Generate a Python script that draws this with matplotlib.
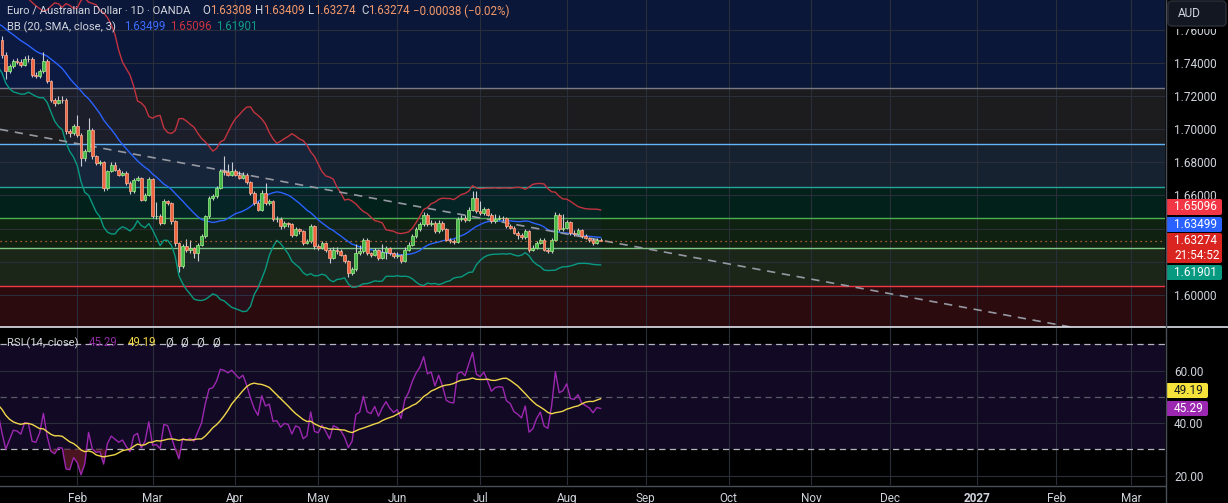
import matplotlib
matplotlib.use('Agg')
import matplotlib.pyplot as plt
import numpy as np
import pandas as pd
from matplotlib.patches import FancyBboxPatch, Rectangle
from matplotlib.lines import Line2D
from matplotlib.transforms import IdentityTransform
from matplotlib.ticker import FixedLocator, FuncFormatter

plt.rcParams['font.family'] = ['Roboto', 'DejaVu Sans']

# EUR/AUD daily, OANDA
first_day = '2026-01-05'

# closes before the first visible bar (warm-up for BB and RSI)
pre_close = [1.7560, 1.7590, 1.7570, 1.7610, 1.7640, 1.7620, 1.7660, 1.7690, 1.7670, 1.7700,
             1.7680, 1.7720, 1.7700, 1.7740, 1.7710, 1.7690, 1.7730, 1.7760, 1.7730, 1.7700,
             1.7690, 1.7720, 1.7750, 1.7730, 1.7760, 1.7740, 1.7700, 1.7720, 1.7680, 1.7650,
             1.7600, 1.7560, 1.7500, 1.7530, 1.7510, 1.7555, 1.7580, 1.7560, 1.7600, 1.7539]

close = [1.7449, 1.7348, 1.7378, 1.7409, 1.7405, 1.7388, 1.7423, 1.7420, 1.7328, 1.7322,
         1.7348, 1.7409, 1.7288, 1.7178, 1.7158, 1.7178, 1.7175, 1.6987, 1.6977, 1.7017,
         1.6967, 1.6826, 1.6866, 1.6997, 1.6836, 1.6796, 1.6800, 1.6646, 1.6746, 1.6786,
         1.6756, 1.6726, 1.6736, 1.6676, 1.6625, 1.6696, 1.6706, 1.6575, 1.6605, 1.6700,
         1.6475, 1.6478, 1.6435, 1.6565, 1.6555, 1.6445, 1.6314, 1.6174, 1.6294, 1.6274,
         1.6284, 1.6254, 1.6304, 1.6354, 1.6475, 1.6585, 1.6595, 1.6646, 1.6746, 1.6740,
         1.6726, 1.6746, 1.6726, 1.6706, 1.6726, 1.6680, 1.6615, 1.6555, 1.6515, 1.6615,
         1.6555, 1.6565, 1.6455, 1.6459, 1.6415, 1.6431, 1.6425, 1.6364, 1.6395, 1.6384,
         1.6314, 1.6324, 1.6415, 1.6294, 1.6284, 1.6314, 1.6274, 1.6224, 1.6274, 1.6264,
         1.6244, 1.6204, 1.6133, 1.6154, 1.6254, 1.6264, 1.6334, 1.6254, 1.6244, 1.6274,
         1.6224, 1.6258, 1.6284, 1.6254, 1.6234, 1.6244, 1.6204, 1.6274, 1.6304, 1.6354,
         1.6395, 1.6425, 1.6485, 1.6425, 1.6435, 1.6384, 1.6435, 1.6395, 1.6334, 1.6324,
         1.6322, 1.6455, 1.6465, 1.6451, 1.6515, 1.6585, 1.6505, 1.6495, 1.6519, 1.6485,
         1.6445, 1.6461, 1.6465, 1.6463, 1.6415, 1.6405, 1.6374, 1.6364, 1.6350, 1.6384,
         1.6274, 1.6284, 1.6314, 1.6334, 1.6274, 1.6264, 1.6334, 1.6485, 1.6395, 1.6405,
         1.6439, 1.6374, 1.6370, 1.6390, 1.6354, 1.6344, 1.6334, 1.6314, 1.63308, 1.63274]

high = [1.7560, 1.7462, 1.7395, 1.7425, 1.7430, 1.7420, 1.7440, 1.7445, 1.7432, 1.7345,
        1.7365, 1.7465, 1.7420, 1.7295, 1.7190, 1.7200, 1.7198, 1.7185, 1.7000, 1.7030,
        1.7085, 1.6975, 1.6880, 1.7065, 1.7005, 1.6845, 1.6815, 1.6808, 1.6755, 1.6800,
        1.6800, 1.6765, 1.6750, 1.6745, 1.6685, 1.6705, 1.6720, 1.6712, 1.6615, 1.6712,
        1.6708, 1.6560, 1.6490, 1.6578, 1.6575, 1.6562, 1.6452, 1.6320, 1.6310, 1.6335,
        1.6330, 1.6292, 1.6315, 1.6365, 1.6485, 1.6595, 1.6610, 1.6655, 1.6760, 1.6840,
        1.6790, 1.6800, 1.6760, 1.6745, 1.6740, 1.6735, 1.6690, 1.6625, 1.6565, 1.6630,
        1.6675, 1.6580, 1.6572, 1.6475, 1.6468, 1.6445, 1.6440, 1.6432, 1.6410, 1.6405,
        1.6392, 1.6340, 1.6430, 1.6422, 1.6305, 1.6325, 1.6320, 1.6285, 1.6290, 1.6290,
        1.6275, 1.6250, 1.6210, 1.6170, 1.6310, 1.6300, 1.6345, 1.6345, 1.6262, 1.6285,
        1.6280, 1.6310, 1.6295, 1.6292, 1.6262, 1.6260, 1.6250, 1.6290, 1.6320, 1.6365,
        1.6410, 1.6440, 1.6500, 1.6492, 1.6450, 1.6445, 1.6450, 1.6445, 1.6402, 1.6345,
        1.6340, 1.6470, 1.6485, 1.6480, 1.6530, 1.6625, 1.6625, 1.6565, 1.6530, 1.6525,
        1.6492, 1.6490, 1.6480, 1.6478, 1.6470, 1.6425, 1.6415, 1.6385, 1.6375, 1.6395,
        1.6392, 1.6300, 1.6325, 1.6345, 1.6345, 1.6285, 1.6345, 1.6500, 1.6492, 1.6490,
        1.6452, 1.6445, 1.6390, 1.6405, 1.6400, 1.6365, 1.6350, 1.6345, 1.6345, 1.63409]

low = [1.7430, 1.7300, 1.7335, 1.7370, 1.7390, 1.7375, 1.7380, 1.7405, 1.7315, 1.7305,
       1.7310, 1.7340, 1.7275, 1.7165, 1.7140, 1.7150, 1.7160, 1.6970, 1.6955, 1.6965,
       1.6950, 1.6780, 1.6810, 1.6860, 1.6820, 1.6785, 1.6785, 1.6625, 1.6635, 1.6740,
       1.6745, 1.6715, 1.6720, 1.6665, 1.6610, 1.6615, 1.6690, 1.6565, 1.6565, 1.6598,
       1.6462, 1.6460, 1.6420, 1.6428, 1.6540, 1.6430, 1.6295, 1.6140, 1.6160, 1.6262,
       1.6255, 1.6225, 1.6205, 1.6295, 1.6345, 1.6465, 1.6575, 1.6585, 1.6640, 1.6725,
       1.6715, 1.6715, 1.6715, 1.6700, 1.6700, 1.6670, 1.6605, 1.6540, 1.6505, 1.6505,
       1.6545, 1.6545, 1.6445, 1.6440, 1.6400, 1.6405, 1.6410, 1.6350, 1.6355, 1.6370,
       1.6300, 1.6305, 1.6315, 1.6280, 1.6270, 1.6275, 1.6260, 1.6190, 1.6215, 1.6250,
       1.6232, 1.6190, 1.6110, 1.6120, 1.6145, 1.6240, 1.6255, 1.6240, 1.6230, 1.6235,
       1.6210, 1.6215, 1.6215, 1.6240, 1.6222, 1.6225, 1.6190, 1.6198, 1.6265, 1.6295,
       1.6345, 1.6385, 1.6415, 1.6415, 1.6415, 1.6375, 1.6375, 1.6385, 1.6325, 1.6315,
       1.6310, 1.6315, 1.6445, 1.6440, 1.6445, 1.6505, 1.6495, 1.6485, 1.6485, 1.6475,
       1.6435, 1.6435, 1.6450, 1.6448, 1.6405, 1.6395, 1.6365, 1.6340, 1.6335, 1.6340,
       1.6262, 1.6265, 1.6275, 1.6305, 1.6265, 1.6255, 1.6255, 1.6325, 1.6385, 1.6385,
       1.6395, 1.6362, 1.6355, 1.6360, 1.6345, 1.6335, 1.6320, 1.6300, 1.6305, 1.63274]

# fib retracement drawn on the chart
fib_low, fib_high = 1.5686, 1.7246
fib_levels = [0.236, 0.382, 0.5, 0.618, 0.786, 1.0]
fib_colors = ['#f23645', '#81c784', '#4caf50', '#26a69a', '#64b5f6', '#787b86']
zone_colors = ['#2b0b0e', '#1b2619', '#0f2110', '#03211b', '#162230', '#1c1c1f', '#0b1738']

# dashed trend line (two anchor points, bar index / price)
trend_x = [0, 281]
trend_y = [1.6996, 1.5819]

last_close = 1.63274
bb_last = {'basis': '1.63499', 'upper': '1.65096', 'lower': '1.61901'}
rsi_last, rsi_ma_last = '45.29', '49.19'

# ---------------------------------------------------------------
all_close = pd.Series(pre_close + close, dtype=float)
pos_all = np.arange(len(all_close)) - len(pre_close)
pos = np.arange(len(close))
c = np.array(close)
o = np.array([pre_close[-1]] + close[:-1])
h = np.array(high)
l = np.array(low)

basis = all_close.rolling(20).mean()
dev = all_close.rolling(20).std(ddof=0)
upper = basis + 3 * dev
lower = basis - 3 * dev

chg = all_close.diff()
up = chg.clip(lower=0).ewm(alpha=1 / 14, adjust=False).mean()
dn = (-chg.clip(upper=0)).ewm(alpha=1 / 14, adjust=False).mean()
rsi = 100 - 100 / (1 + up / dn)
rsi_ma = rsi.rolling(14).mean()

W, H = 1228, 503
fig = plt.figure(figsize=(W / 100, H / 100), dpi=100, facecolor='#000000')
ax = fig.add_axes([0, 1 - 327 / H, 1165 / W, 327 / H])
axr = fig.add_axes([0, 1 - 485 / H, 1165 / W, (485 - 328) / H])

xl = (-2.0 / 3.7646, (1165 - 2.0) / 3.7646)
ax.set_xlim(xl)
axr.set_xlim(xl)
ax.set_ylim(1.58071, 1.77779)
axr.set_ylim(16.4, 76.2)

txt = '#d1d4dc'
for a in (ax, axr):
    a.set_facecolor('#000000')
    for s in a.spines.values():
        s.set_visible(False)
    a.set_axisbelow(True)
    a.grid(True, color='#2a2e39', lw=0.8)
    a.yaxis.tick_right()
    a.tick_params(axis='y', length=0, pad=6.5, labelsize=8.5, labelcolor=txt)
    a.tick_params(axis='x', length=0)

# month ticks
dates = pd.bdate_range(first_day, periods=320)
mt, ml = [], []
for i in range(1, len(dates)):
    if dates[i].month != dates[i - 1].month:
        mt.append(i)
        ml.append(str(dates[i].year) if dates[i].month == 1 else dates[i].strftime('%b'))
ax.set_xticks(mt)
ax.set_xticklabels([])
axr.set_xticks(mt)
axr.set_xticklabels(ml)
axr.tick_params(axis='x', pad=5, labelsize=8.5, labelcolor=txt)
for t in axr.get_xticklabels():
    if t.get_text().isdigit():
        t.set_fontweight('bold')

# price scale
yt = np.round(np.arange(1.60, 1.761, 0.02), 2)
ax.yaxis.set_major_locator(FixedLocator(yt))
ax.yaxis.set_major_formatter(FuncFormatter(
    lambda v, p: '' if round(v, 2) in (1.62, 1.64) else f'{v:.5f}'))

# fib zones and lines
lv = [fib_low + (fib_high - fib_low) * f for f in fib_levels]
bounds = [1.5] + lv + [1.9]
for k in range(len(bounds) - 1):
    ax.axhspan(bounds[k], bounds[k + 1], color=zone_colors[k], lw=0, zorder=0.1)
for y, col in zip(lv, fib_colors):
    ax.axhline(y, color=col, lw=1.0, zorder=1)

# Bollinger bands
ax.fill_between(pos_all, lower, upper, color='#2962ff', alpha=0.05, lw=0, zorder=1.2)
ax.plot(pos_all, upper, color='#c2333f', lw=1.0, zorder=2)
ax.plot(pos_all, basis, color='#2962ff', lw=1.0, zorder=2)
ax.plot(pos_all, lower, color='#089981', lw=1.0, zorder=2)

ax.axline((trend_x[0], trend_y[0]), (trend_x[1], trend_y[1]), color='#9598a1',
          lw=1.2, ls=(0, (5, 4)), zorder=2.5)

# candles
bull = c >= o
ax.vlines(pos, l, h, color='#c9ccd4', lw=0.8, zorder=2.9)
body = np.maximum(np.abs(c - o), 0.00012)
ax.bar(pos[bull], body[bull], bottom=np.minimum(o, c)[bull], width=0.74,
       color='#42b649', edgecolor='#a6f08a', lw=0.5, zorder=3)
ax.bar(pos[~bull], body[~bull], bottom=np.minimum(o, c)[~bull], width=0.74,
       color='#f0643f', edgecolor='#ffb199', lw=0.5, zorder=3)
ax.axhline(last_close, color='#e0703a', lw=0.9, ls=(0, (1, 3)), zorder=4)

# RSI panel
axr.axhspan(30, 70, color='#120a24', lw=0, zorder=0.1)
axr.yaxis.set_major_locator(FixedLocator([20, 40, 60]))
axr.yaxis.set_major_formatter(FuncFormatter(lambda v, p: f'{v:.2f}'))
axr.axhline(70, color='#b2b5be', lw=0.9, ls=(0, (5, 3.5)), zorder=1)
axr.axhline(50, color='#787b86', lw=0.9, ls=(0, (5, 3.5)), alpha=0.7, zorder=1)
axr.axhline(30, color='#b2b5be', lw=0.9, ls=(0, (5, 3.5)), zorder=1)
rv = rsi.values
axr.fill_between(pos_all, rv, 30, where=rv < 30, interpolate=True,
                 color='#4a1520', lw=0, zorder=1.5)
axr.plot(pos_all, rv, color='#9c27b0', lw=1.0, zorder=2)
axr.plot(pos_all, rsi_ma, color='#f0d64a', lw=1.0, zorder=2.1)

# separators
ID = IdentityTransform()
fig.add_artist(Line2D([0, W], [H - 327, H - 327], color='#e0e3eb', lw=1.2, transform=ID))
fig.add_artist(Line2D([0, 1165], [H - 485.5, H - 485.5], color='#4a4e59', lw=1, transform=ID))
fig.add_artist(Line2D([1165.5, 1165.5], [0, H], color='#4a4e59', lw=1, transform=ID))


def tag(y0, y1, x1, fc, s, tc='#ffffff'):
    fig.add_artist(FancyBboxPatch((1166, H - y1), x1 - 1166, y1 - y0,
                                  boxstyle='round,pad=0,rounding_size=2',
                                  fc=fc, ec='none', transform=ID))
    fig.text(1174, H - (y0 + y1) / 2, s, color=tc, fontsize=8.5, va='center',
             ha='left', transform=ID, linespacing=1.15)


tag(199, 215, 1222, '#f23645', bb_last['upper'])
tag(217, 232, 1222, '#2962ff', bb_last['basis'])
tag(233, 263, 1222, '#d9241f', f'{last_close:.5f}\n21:54:52')
tag(265, 280, 1222, '#089981', bb_last['lower'])
tag(383, 398, 1208, '#f5e23b', rsi_ma_last, '#131722')
tag(401, 416, 1208, '#9c27b0', rsi_last)

# currency button over the top of the price scale
fig.add_artist(Rectangle((1166.5, H - 29), 62, 5, fc='#000000', ec='none', transform=ID))
fig.add_artist(FancyBboxPatch((1168, H - 26), 58, 25, boxstyle='round,pad=0,rounding_size=4',
                              fc='#131722', ec='#2a2e39', lw=1, transform=ID))
fig.text(1178, H - 13.5, 'AUD', color=txt, fontsize=8.5, va='center', transform=ID)


def legend_group(a, x, y, parts, size=8.3):
    t = a.text(x, H - y, parts[0][0], color=parts[0][1], fontsize=size,
               va='center', ha='left', transform=ID)
    for s, col in parts[1:]:
        t = a.annotate(s, xy=(1, 0.5), xycoords=t, va='center', ha='left',
                       color=col, fontsize=size)


orange = '#f59a6b'
# header line 1 (x positions of each group as in the reference)
legend_group(ax, 7, 11, [('Euro / Australian Dollar · 1D · OANDA', txt)], 8.15)
legend_group(ax, 202, 11, [('O', txt), ('1.63308', orange)])
legend_group(ax, 255, 11, [('H', txt), ('1.63409', orange)])
legend_group(ax, 308, 11, [('L', txt), ('1.63274', orange)])
legend_group(ax, 361, 11, [('C', txt), ('1.63274', orange)])
legend_group(ax, 413, 11, [('−0.00038 (−0.02%)', orange)])
# header line 2
legend_group(ax, 7, 27, [('BB (20, SMA, close, 3)', txt)], 8.15)
legend_group(ax, 124, 27, [(bb_last['basis'], '#3d6bff')])
legend_group(ax, 170, 27, [(bb_last['upper'], '#c8323f')])
legend_group(ax, 216, 27, [(bb_last['lower'], '#119c85')])
# RSI legend
legend_group(axr, 7, 343, [('RSI (14, close)', txt)], 8.15)
legend_group(axr, 89, 343, [(rsi_last, '#8e2aa0')])
legend_group(axr, 128, 343, [(rsi_ma_last, '#f0d64a')])
for xx in (165, 180, 196, 212):
    legend_group(axr, xx, 343, [('Ø', txt)])

fig.savefig('out.png', dpi=100, facecolor='#000000')
